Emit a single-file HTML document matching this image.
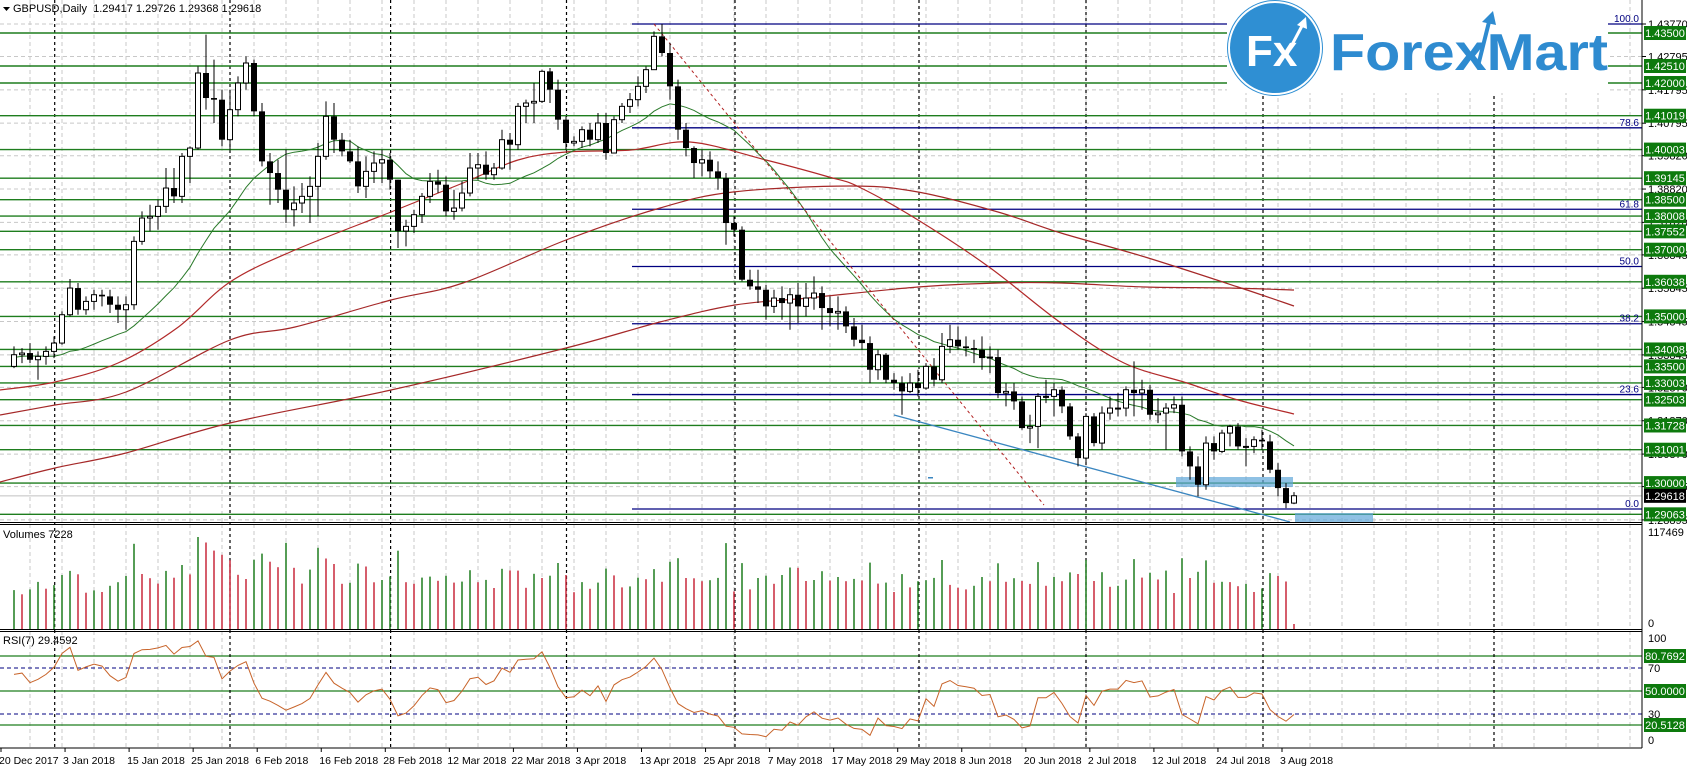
<!DOCTYPE html>
<html><head><meta charset="utf-8"><style>
html,body{margin:0;padding:0;background:#fff;}
svg{display:block;font-family:"Liberation Sans",sans-serif;}
</style></head><body>
<svg id="c" width="1687" height="770" xmlns="http://www.w3.org/2000/svg"></svg>
<script>
const raw=`1.3410 1.3345 1.3385
1.3405 1.3360 1.3390
1.3420 1.3360 1.3370
1.3395 1.3310 1.3380
1.3410 1.3355 1.3395
1.3440 1.3375 1.3420
1.3515 1.3415 1.3505
1.3612 1.3500 1.3585
1.3600 1.3505 1.3520
1.3560 1.3505 1.3545
1.3580 1.3520 1.3565
1.3580 1.3530 1.3560
1.3580 1.3510 1.3535
1.3560 1.3480 1.3520
1.3560 1.3460 1.3535
1.3740 1.3520 1.3725
1.3815 1.3715 1.3795
1.3835 1.3755 1.3800
1.3850 1.3760 1.3830
1.3945 1.3810 1.3885
1.3945 1.3840 1.3860
1.3990 1.3840 1.3980
1.4010 1.3900 1.4005
1.4250 1.4000 1.4230
1.4345 1.4120 1.4155
1.4270 1.4080 1.4150
1.4180 1.4010 1.4030
1.4180 1.4000 1.4120
1.4220 1.4100 1.4200
1.4280 1.4180 1.4260
1.4270 1.4100 1.4115
1.4140 1.3950 1.3965
1.3990 1.3835 1.3930
1.3970 1.3840 1.3880
1.4000 1.3780 1.3820
1.3890 1.3770 1.3840
1.3900 1.3810 1.3860
1.3920 1.3780 1.3890
1.4020 1.3800 1.3980
1.4145 1.3970 1.4100
1.4140 1.3990 1.4030
1.4050 1.3980 1.3995
1.4030 1.3960 1.3965
1.4010 1.3870 1.3890
1.3980 1.3855 1.3935
1.3995 1.3900 1.3960
1.4000 1.3900 1.3970
1.3990 1.3880 1.3910
1.3910 1.3705 1.3756
1.3790 1.3710 1.3770
1.3820 1.3750 1.3805
1.3870 1.3780 1.3860
1.3930 1.3840 1.3905
1.3940 1.3870 1.3895
1.3920 1.3800 1.3815
1.3880 1.3790 1.3825
1.3905 1.3815 1.3870
1.3990 1.3860 1.3945
1.3990 1.3910 1.3955
1.3995 1.3910 1.3925
1.3960 1.3910 1.3945
1.4060 1.3940 1.4030
1.4050 1.3940 1.4015
1.4140 1.4000 1.4130
1.4150 1.4080 1.4140
1.4200 1.4080 1.4145
1.4240 1.4140 1.4235
1.4245 1.4140 1.4180
1.4210 1.4060 1.4090
1.4100 1.4000 1.4020
1.4040 1.4010 1.4025
1.4070 1.4005 1.4060
1.4080 1.4010 1.4030
1.4110 1.4020 1.4080
1.4110 1.3970 1.3990
1.4100 1.3990 1.4090
1.4140 1.4080 1.4130
1.4170 1.4110 1.4150
1.4220 1.4130 1.4190
1.4250 1.4170 1.4240
1.4355 1.4240 1.4340
1.4377 1.4280 1.4290
1.4320 1.4150 1.4190
1.4210 1.4030 1.4060
1.4080 1.3980 1.4005
1.4010 1.3915 1.3960
1.4000 1.3920 1.3970
1.3995 1.3915 1.3935
1.3965 1.3880 1.3915
1.3930 1.3715 1.3780
1.3800 1.3740 1.3760
1.3770 1.3605 1.3610
1.3640 1.3580 1.3590
1.3640 1.3540 1.3580
1.3595 1.3490 1.3530
1.3580 1.3510 1.3555
1.3590 1.3490 1.3540
1.3585 1.3460 1.3565
1.3600 1.3480 1.3530
1.3600 1.3500 1.3555
1.3620 1.3520 1.3570
1.3590 1.3460 1.3525
1.3560 1.3470 1.3510
1.3560 1.3460 1.3515
1.3530 1.3450 1.3470
1.3495 1.3410 1.3430
1.3475 1.3400 1.3420
1.3440 1.3300 1.3340
1.3400 1.3310 1.3385
1.3390 1.3300 1.3310
1.3330 1.3280 1.3300
1.3320 1.3205 1.3275
1.3330 1.3270 1.3300
1.3340 1.3260 1.3285
1.3360 1.3280 1.3350
1.3375 1.3290 1.3310
1.3450 1.3300 1.3410
1.3475 1.3390 1.3430
1.3470 1.3400 1.3410
1.3440 1.3380 1.3405
1.3430 1.3360 1.3400
1.3440 1.3340 1.3375
1.3410 1.3330 1.3378
1.3400 1.3255 1.3270
1.3300 1.3230 1.3275
1.3300 1.3220 1.3245
1.3260 1.3160 1.3165
1.3205 1.3120 1.3170
1.3270 1.3105 1.3260
1.3310 1.3240 1.3260
1.3300 1.3200 1.3280
1.3290 1.3210 1.3230
1.3240 1.3130 1.3140
1.3150 1.3050 1.3075
1.3210 1.3060 1.3200
1.3210 1.3110 1.3120
1.3230 1.3100 1.3210
1.3260 1.3190 1.3225
1.3270 1.3200 1.3225
1.3290 1.3200 1.3280
1.3365 1.3200 1.3270
1.3310 1.3220 1.3280
1.3295 1.3190 1.3205
1.3255 1.3180 1.3210
1.3240 1.3100 1.3225
1.3260 1.3210 1.3235
1.3260 1.3080 1.3095
1.3110 1.3010 1.3050
1.3080 1.2960 1.2995
1.3140 1.2980 1.3120
1.3140 1.3070 1.3095
1.3160 1.3090 1.3150
1.3175 1.3110 1.3170
1.3180 1.3100 1.3110
1.3135 1.3050 1.3110
1.3140 1.3090 1.3130
1.3160 1.3100 1.3125
1.3145 1.3030 1.3040
1.3060 1.2960 1.2985
1.3000 1.2925 1.2940
1.2973 1.2937 1.2962`;
const bars=[];let pc=1.3350;
raw.trim().split('\n').forEach(l=>{const [h,lo,c]=l.trim().split(/\s+/).map(Number);bars.push({o:pc,h:Math.max(h,pc,c),l:Math.min(lo,pc,c),c});pc=c;});
const N=bars.length;
const bx=i=>1294-8*(N-1-i);
const py=p=>24+(1.4377-p)*3334;
let s='';
const R=(x,y,w,h,f,extra='')=>{s+=`<rect x="${x}" y="${y}" width="${w}" height="${h}" fill="${f}" ${extra}/>`;};
const L=(x1,y1,x2,y2,c,w=1,d='')=>{s+=`<line x1="${x1}" y1="${y1}" x2="${x2}" y2="${y2}" stroke="${c}" stroke-width="${w}" ${d?`stroke-dasharray="${d}"`:''}/>`;};
const T=(x,y,t,sz=11,f='#000',a='start',extra='')=>{s+=`<text x="${x}" y="${y}" font-size="${sz}" fill="${f}" text-anchor="${a}" ${extra}>${t}</text>`;};
const AX=1642;
for(let x=30;x<AX;x+=32){L(x,0,x,522,'#c8c8c8',1,'4,3');L(x,524,x,629,'#c8c8c8',1,'4,3');L(x,631,x,748,'#c8c8c8',1,'4,3');}
const ticks=[1.43770,1.42795,1.41795,1.40795,1.39820,1.38820,1.37820,1.36845,1.35845,1.34845,1.33845,1.32870,1.31870,1.30870,1.29895,1.28895];
ticks.forEach(p=>L(0,py(p),AX,py(p),'#c8c8c8',1,'4,3'));
L(0,668,AX,668,'#000080',1,'4,3');L(0,714,AX,714,'#000080',1,'4,3');
[656,691,725].forEach(y=>L(0,y,AX,y,'#1e7d1e',1.3));
[54.7,230,390.6,566.5,735,919,1086,1263,1494].forEach(x=>{L(x,0,x,748,'#000',1.2,'3,3');});
const greens=[1.43500,1.42510,1.42000,1.41019,1.40003,1.39145,1.38500,1.38008,1.37552,1.37000,1.36038,1.35000,1.34008,1.33500,1.33003,1.32503,1.31728,1.31001,1.30000,1.29063];
greens.forEach(p=>L(0,py(p),AX,py(p),'#1e7d1e',1.4));
const fib=[[100,'100.0'],[78.6,'78.6'],[61.8,'61.8'],[50,'50.0'],[38.2,'38.2'],[23.6,'23.6'],[0,'0.0']];
fib.forEach(([v,t])=>{const y=24+(1-v/100)*485;L(632,y,AX,y,'#000080',1.3);});
L(0,py(1.29618),AX,py(1.29618),'#c0c0c0',1);
function curve(pts,col,w){let d=`M${pts[0][0]},${pts[0][1]}`;for(let i=0;i<pts.length-1;i++){const p0=pts[i-1]||pts[i],p1=pts[i],p2=pts[i+1],p3=pts[i+2]||p2;const c1=[p1[0]+(p2[0]-p0[0])/6,p1[1]+(p2[1]-p0[1])/6],c2=[p2[0]-(p3[0]-p1[0])/6,p2[1]-(p3[1]-p1[1])/6];d+=` C${c1[0]},${c1[1]} ${c2[0]},${c2[1]} ${p2[0]},${p2[1]}`;}s+=`<path d="${d}" fill="none" stroke="${col}" stroke-width="${w}"/>`;}
curve([[0,390],[55,382],[118,363],[177,328],[230,282],[295,250],[391,212],[463,183],[518,160],[566,152],[631,150],[690,142],[766,160],[829,177],[859,187],[918,220],[989,267],[1061,323],[1124,363],[1187,383],[1238,400],[1294,414]],'#b22a2a',1.2);
curve([[0,415],[55,405],[126,392],[230,340],[295,327],[391,300],[463,283],[566,240],[660,208],[733,192],[850,186],[918,192],[998,212],[1061,233],[1145,257],[1238,287],[1294,306]],'#a52828',1.2);
curve([[0,482],[55,468],[126,453],[230,423],[391,390],[566,348],[660,322],[735,305],[808,298],[918,287],[998,283],[1061,283],[1145,287],[1229,288],[1294,290]],'#a52828',1.2);
{const pre=[1.3300,1.3320,1.3350,1.3380,1.3410,1.3420,1.3400,1.3390,1.3450,1.3380,1.3370,1.3360,1.3350,1.3320,1.3370,1.3380,1.3360,1.3370,1.3380,1.3390];
const cl=pre.concat(bars.map(b=>b.c));let pts=[];
for(let i=0;i<N;i++){let sm=0;for(let j=0;j<20;j++)sm+=cl[i+20-j];pts.push(bx(i).toFixed(1)+','+py(sm/20).toFixed(1));}
s+=`<polyline points="${pts.join(' ')}" fill="none" stroke="#2a7a2a" stroke-width="1"/>`;}
L(654,24,1044,505,'#b22222',1,'3,3');
L(894,415,1290,522,'#3a86c0',1.3);
R(1176,477,117,10,'#5fa6d8','opacity="0.7"');
R(1295,513,78,10,'#5fa6d8','opacity="0.7"');
R(928,477,5,1.5,'#3a86c0');
bars.forEach((b,i)=>{const x=bx(i);if(x<-4)return;L(x,py(b.h),x,py(b.l),'#000',1);
const top=py(Math.max(b.o,b.c)),bot=py(Math.min(b.o,b.c));const h=Math.max(1,bot-top);
if(b.c>=b.o)R(x-2.5,top,5,h,'#fff','stroke="#000" stroke-width="1"');else R(x-3,top,6,h,'#000');});
let pv=0;bars.forEach((b,i)=>{const x=bx(i);let v=(b.h-b.l)*2600+22+((i*37)%9);v=Math.min(97,v);if(i==N-1)v=5;
const col=v>pv?'#1e7d1e':'#c8283c';pv=v;if(x<-2)return;R(x-0.75,629-v,1.5,v,col);});
{const pre=[1.3330,1.3360,1.3340,1.3380,1.3365,1.3390,1.3370,1.3350];const cl=pre.concat(bars.map(b=>b.c));
let ag=0,al=0;for(let j=1;j<=7;j++){const d=cl[j]-cl[j-1];if(d>0)ag+=d;else al-=d;}ag/=7;al/=7;
let rs=[];for(let j=8;j<cl.length;j++){const d=cl[j]-cl[j-1];ag=(ag*6+Math.max(d,0))/7;al=(al*6+Math.max(-d,0))/7;rs.push(100-100/(1+ag/al));}
const pts=rs.map((r,i)=>bx(i).toFixed(1)+','+(748.5-r*1.15).toFixed(1)).filter((p,i)=>bx(i)>-4);
s+=`<polyline points="${pts.join(' ')}" fill="none" stroke="#c8642a" stroke-width="1"/>`;}
R(1227,0,381,93,'#fff');
s+=`<circle cx="1275" cy="48" r="46" fill="#2f8fd3" stroke="#fff" stroke-width="2"/><circle cx="1275" cy="48" r="47.5" fill="none" stroke="#2f8fd3" stroke-width="1"/>`;
T(1246,66,'Fx',44,'#fff','start','font-weight="bold"');
L(1285,58,1303,24,'#fff',3);s+=`<polygon points="1306,17 1297,25 1307,29" fill="#fff"/>`;
T(1330,70,'ForexMart',52,'#2e8bd0','start','font-weight="bold" textLength="278" lengthAdjust="spacingAndGlyphs"');
L(1478,66,1489,22,'#2e8bd0',4);s+=`<polygon points="1493,11 1482,22 1496,25" fill="#2e8bd0"/>`;
fib.forEach(([v,t])=>{const y=24+(1-v/100)*485;T(1639,y-2,t,10,'#000080','end');});
R(AX,0,45,770,'#fff');
R(0,748,1687,22,'#fff');
L(AX,0,AX,748,'#000',1);
L(0,522.5,AX,522.5,'#000',1);L(0,524.5,AX,524.5,'#000',1);
L(0,629.5,AX,629.5,'#000',1);L(0,631.5,AX,631.5,'#000',1);
L(0,748,AX,748,'#000',1);
ticks.forEach(p=>{const y=py(p);L(AX,y,AX+4,y,'#000',1);T(1648,y+4,p.toFixed(5),11,'#000');});
greens.forEach(p=>{const y=py(p);R(1644,y-7,42,14,'#0d7a0d');T(1665,y+4,p.toFixed(5),11,'#fff','middle');});
R(1644,py(1.29618)-7,42,14,'#000');T(1665,py(1.29618)+4,'1.29618',11,'#fff','middle');
T(1648,536,'117469',11);T(1648,627,'0',11);
T(1648,642,'100',11);T(1648,672,'70',11);T(1648,718,'30',11);T(1648,744,'0',11);
[[656,'80.7692'],[691,'50.0000'],[725,'20.5128']].forEach(([y,t])=>{R(1644,y-7,42,14,'#0d7a0d');T(1665,y+4,t,11,'#fff','middle');});
const dates=['20 Dec 2017','3 Jan 2018','15 Jan 2018','25 Jan 2018','6 Feb 2018','16 Feb 2018','28 Feb 2018','12 Mar 2018','22 Mar 2018','3 Apr 2018','13 Apr 2018','25 Apr 2018','7 May 2018','17 May 2018','29 May 2018','8 Jun 2018','20 Jun 2018','2 Jul 2018','12 Jul 2018','24 Jul 2018','3 Aug 2018'];
dates.forEach((d,j)=>{const x=-1+64.05*j;L(x+2,748,x+2,752,'#000',1);T(x,764,d,10.5);});
s+=`<polygon points="3,7 10,7 6.5,11" fill="#000"/>`;
T(13,12,'GBPUSD,Daily&#160;&#160;1.29417 1.29726 1.29368 1.29618',11);
T(3,538,'Volumes 7228',11);
T(3,644,'RSI(7) 29.4592',11);
document.getElementById('c').innerHTML=s;
</script>
</body></html>
